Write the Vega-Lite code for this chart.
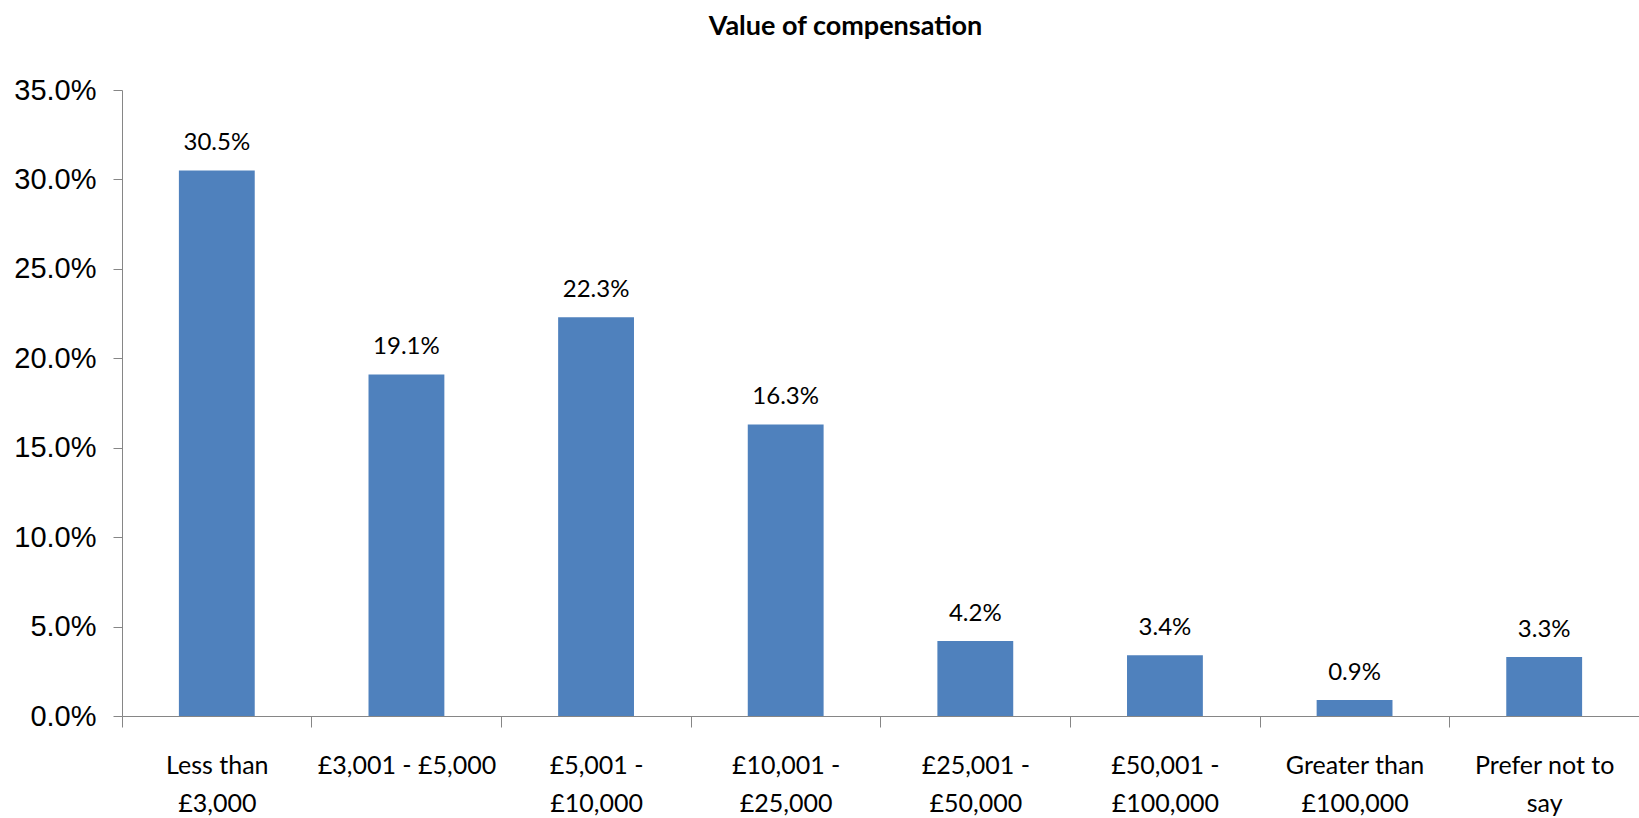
{
  "$schema": "https://vega.github.io/schema/vega-lite/v6.json",
  "autosize": {"type": "none"},
  "padding": {"left": 122, "top": 90, "right": 0, "bottom": 102},
  "width": 1517,
  "height": 626,
  "background": "white",
  "title": {
    "text": "Value of compensation",
    "font": "Lato",
    "fontSize": 27,
    "fontWeight": "bold",
    "color": "#000000",
    "anchor": "middle",
    "baseline": "alphabetic",
    "dx": -35,
    "offset": 14
  },
  "data": {
    "values": [
      {"category": "Less than\n£3,000", "share": 0.305},
      {"category": "£3,001 - £5,000", "share": 0.191},
      {"category": "£5,001 -\n£10,000", "share": 0.223},
      {"category": "£10,001 -\n£25,000", "share": 0.163},
      {"category": "£25,001 -\n£50,000", "share": 0.042},
      {"category": "£50,001 -\n£100,000", "share": 0.034},
      {"category": "Greater than\n£100,000", "share": 0.009},
      {"category": "Prefer not to\nsay", "share": 0.033}
    ]
  },
  "encoding": {
    "x": {
      "field": "category",
      "type": "nominal",
      "sort": null,
      "scale": {"paddingInner": 0.6, "paddingOuter": 0.3},
      "axis": {
        "title": null,
        "labelAngle": 0,
        "tickOffset": -95,
        "labelOffset": 95,
        "labelExpr": "split(datum.value, '\\n')",
        "labelFont": "Lato",
        "labelFontSize": 25,
        "labelColor": "#000000",
        "labelLineHeight": 38,
        "labelPadding": 26,
        "labelBaseline": "top",
        "labelLimit": 0,
        "tickSize": 11,
        "tickColor": "#868686",
        "domainColor": "#868686",
        "labelOverlap": false,
        "labelBound": false,
        "labelFlush": false
      }
    },
    "y": {
      "field": "share",
      "type": "quantitative",
      "scale": {"domain": [0, 0.35], "nice": false},
      "axis": {
        "title": null,
        "format": ".1%",
        "values": [0, 0.05, 0.1, 0.15, 0.2, 0.25, 0.3, 0.35],
        "grid": false,
        "labelFont": "Liberation Sans",
        "labelFontSize": 29,
        "labelColor": "#000000",
        "labelPadding": 17,
        "tickSize": 9,
        "tickColor": "#868686",
        "domainColor": "#868686"
      }
    }
  },
  "layer": [
    {"mark": {"type": "bar", "color": "#4F81BD"}},
    {
      "mark": {
        "type": "text",
        "font": "Lato",
        "fontSize": 24,
        "color": "#000000",
        "baseline": "alphabetic",
        "dy": -20
      },
      "encoding": {"text": {"field": "share", "type": "quantitative", "format": ".1%"}}
    }
  ],
  "config": {"view": {"stroke": null}}
}
